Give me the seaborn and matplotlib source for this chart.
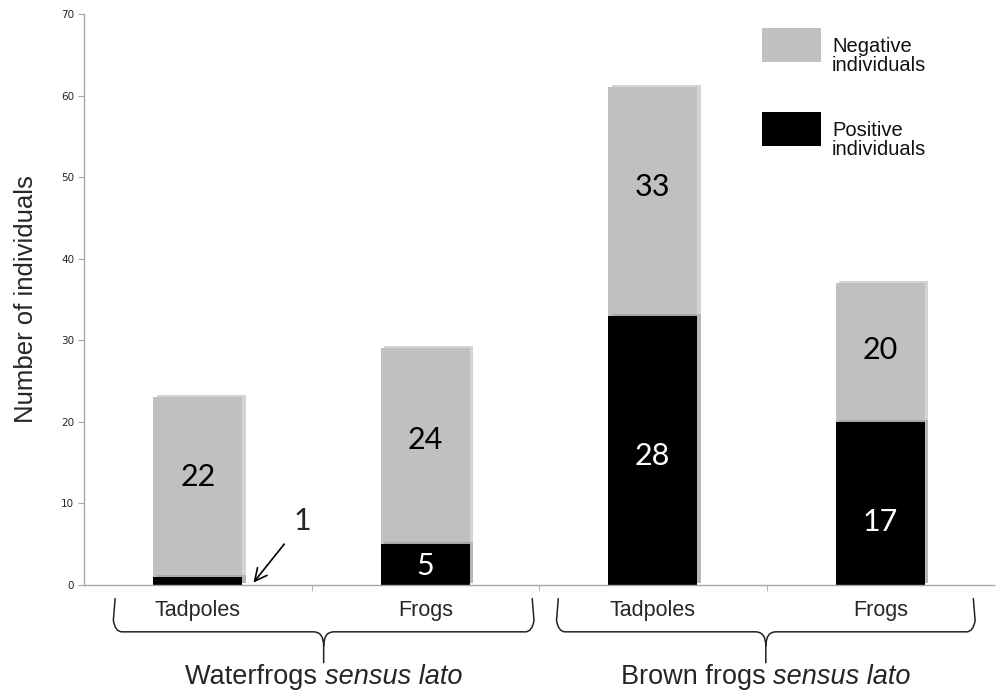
import matplotlib
matplotlib.use('Agg')
import matplotlib.pyplot as plt
import matplotlib.patheffects as pe
from matplotlib.patches import PathPatch, Rectangle
from matplotlib.path import Path
from matplotlib.transforms import blended_transform_factory
import pandas as pd
import seaborn as sns

# data
stages = ['Tadpoles', 'Frogs', 'Tadpoles ', 'Frogs ']
stage_labels = ['Tadpoles', 'Frogs', 'Tadpoles', 'Frogs']
groups = ['Waterfrogs', 'Brown frogs']
positive = [1, 5, 33, 20]
negative = [22, 24, 28, 17]
positive_text = ['', '5', '28', '17']
negative_text = ['22', '24', '33', '20']

# where the numbers sit on the bars (placed by hand in the original)
pos_label_y = [0, 2.3, 15.8, 7.7]
neg_label_y = [13.2, 17.8, 48.8, 28.8]

GREY = '#c0c0c0'
AXIS = '#a6a6a6'
LABEL_FONT = ['Lato', 'DejaVu Sans']

sns.set_style('white')
plt.rcParams['font.family'] = ['Liberation Sans', 'DejaVu Sans']

df = pd.DataFrame({'stage': stages, 'positive': positive, 'negative': negative})
df['total'] = df['positive'] + df['negative']

W, H = 996, 695
fig = plt.figure(figsize=(W / 100, H / 100), dpi=100)
ax = fig.add_axes([84 / W, 1 - 585 / H, 910 / W, 571 / H])

sns.barplot(data=df, x='stage', y='total', color=GREY, width=0.39,
            saturation=1, ax=ax)
sns.barplot(data=df, x='stage', y='positive', color='black', width=0.39,
            saturation=1, ax=ax)
shadow = [pe.SimplePatchShadow(offset=(2.5, 1.5), shadow_rgbFace='0.45',
                               alpha=0.3), pe.Normal()]
for p in ax.patches:
    p.set_edgecolor('none')
    p.set_path_effects(shadow)

# numbers on the bars
for i in range(len(stages)):
    if positive_text[i]:
        ax.text(i, pos_label_y[i], positive_text[i], ha='center',
                va='center', color='white', fontsize=22, family=LABEL_FONT)
    ax.text(i, neg_label_y[i], negative_text[i], ha='center', va='center',
            color='black', fontsize=22, family=LABEL_FONT)
ax.annotate('1', xy=(0.245, 0.3), xytext=(0.46, 7.8), ha='center',
            va='center', fontsize=22, family=LABEL_FONT,
            arrowprops=dict(arrowstyle='->', color='black', lw=1.2,
                            shrinkA=7, shrinkB=0))

ax.set_xlim(-0.5, 3.5)
ax.set_ylim(0, 70)
ax.set_yticks(range(0, 71, 10))
ax.set_xticks(range(4))
ax.set_xticklabels(stage_labels, fontsize=15.5)
ax.set_xticks([0.5, 1.5, 2.5], minor=True)
ax.tick_params(axis='x', which='major', length=0, pad=11)
ax.tick_params(axis='x', which='minor', length=4, color=AXIS, direction='out',
               bottom=True)
ax.tick_params(axis='y', length=4, color=AXIS, direction='out', left=True,
               labelsize=7.5, pad=3)
for lab in ax.get_yticklabels():
    lab.set_family(['DejaVu Sans'])
ax.set_xlabel('')
ax.set_ylabel('Number of individuals', fontsize=18.5)
ax.yaxis.set_label_coords(-0.05, 0.5)
sns.despine(ax=ax)
for s in ['left', 'bottom']:
    ax.spines[s].set_color(AXIS)
    ax.spines[s].set_linewidth(1)

# curly braces under the categories
trans = blended_transform_factory(ax.transData, ax.transAxes)


def brace(x0, x1, yt=-0.023, yh=-0.082, yc=-0.137, rx=0.03, ry=0.02,
          cx=0.045, cy=0.025):
    xm = (x0 + x1) / 2
    verts = [(x0, yt), (x0 - 0.008, yh + ry), (x0, yh), (x0 + rx, yh),
             (xm - cx, yh), (xm, yh), (xm, yh - cy), (xm, yc),
             (xm, yh - cy), (xm, yh), (xm + cx, yh),
             (x1 - rx, yh), (x1, yh), (x1 + 0.008, yh + ry), (x1, yt)]
    codes = [Path.MOVETO, Path.LINETO, Path.CURVE3, Path.CURVE3,
             Path.LINETO, Path.CURVE3, Path.CURVE3, Path.LINETO,
             Path.MOVETO, Path.CURVE3, Path.CURVE3,
             Path.LINETO, Path.CURVE3, Path.CURVE3, Path.LINETO]
    ax.add_patch(PathPatch(Path(verts, codes), transform=trans, fill=False,
                           lw=1.1, edgecolor='#222222', clip_on=False))


brace(-0.363, 1.47)
brace(1.585, 3.409)

# group names, species part in italic
fig.canvas.draw()
renderer = fig.canvas.get_renderer()
inv = ax.transData.inverted()
for g, xc in zip(groups, [0.554, 2.497]):
    t1 = ax.text(xc, -0.161, g + ' ', transform=trans, ha='left',
                 va='center', fontsize=19.5)
    t2 = ax.text(xc, -0.161, 'sensus lato', transform=trans, ha='left',
                 va='center', fontsize=19.5, style='italic')
    w1 = t1.get_window_extent(renderer).width
    w2 = t2.get_window_extent(renderer).width
    x_px = ax.transData.transform((xc, 0))[0]
    start = x_px - (w1 + w2) / 2
    t1.set_x(inv.transform((start, 0))[0])
    t2.set_x(inv.transform((start + w1, 0))[0])

# legend boxes
for col, y0, txt in [(GREY, 28, 'Negative\nindividuals'),
                     ('black', 112, 'Positive\nindividuals')]:
    fig.add_artist(Rectangle((762 / W, 1 - (y0 + 34) / H), 59 / W, 34 / H,
                             transform=fig.transFigure, facecolor=col,
                             edgecolor='none'))
    fig.text(832 / W, 1 - (y0 + 28) / H, txt, ha='left', va='center',
             fontsize=14.5, linespacing=1.05, color='#111111')

fig.savefig('out.png', dpi=100)
